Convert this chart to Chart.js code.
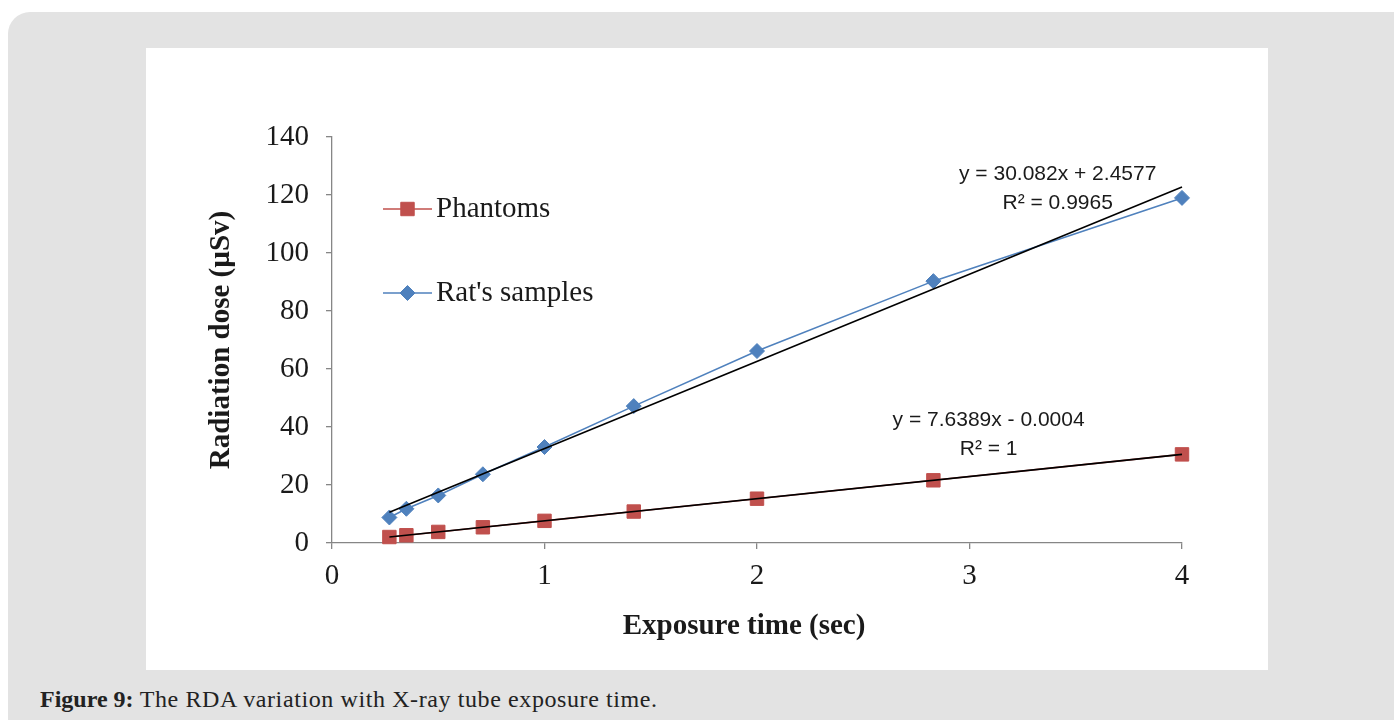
<!DOCTYPE html>
<html>
<head>
<meta charset="utf-8">
<script src="https://cdn.jsdelivr.net/npm/chart.js@4.4.1/dist/chart.umd.min.js"></script>
<style>
  html, body { margin: 0; padding: 0; background: #fff; width: 1394px; height: 720px; overflow: hidden; }
  #frame { position: absolute; left: 8px; top: 12px; width: 1420px; height: 760px; background: #e3e3e3; border-radius: 22px; }
  #panel { position: absolute; left: 146px; top: 48px; width: 1122px; height: 622px; background: #fff; }
  #caption { position: absolute; left: 40px; top: 686px; font: 24px "Liberation Serif", serif; color: #222; white-space: nowrap; }
  #caption b { font-weight: bold; }
  #caption span { letter-spacing: 0.6px; }
</style>
</head>
<body>
<div id="frame"></div>
<div id="panel"><canvas id="dose" width="1122" height="622"></canvas></div>
<div id="caption"><b>Figure 9:</b><span> The RDA variation with X-ray tube exposure time.</span></div>
<script>
// exposure time (s) and measured dose (µSv)
const exposureTime = [0.27, 0.35, 0.5, 0.71, 1, 1.42, 2, 2.83, 4];
const phantomDose  = [2.06, 2.67, 3.82, 5.42, 7.64, 10.85, 15.28, 21.62, 30.56];
const ratDose      = [8.8, 11.8, 16.4, 23.7, 33.1, 47.2, 66.2, 90.3, 119.0];
const seriesNames  = ['Phantoms', "Rat's samples"];

// linear fits as printed on the chart
const fitSlope     = [7.6389, 30.082];
const fitIntercept = [-0.0004, 2.4577];
const fitR2        = ['1', '0.9965'];

const RED = '#c0504d', BLUE = '#4f81bd', AXIS = '#868686', INK = '#1a1a1a';
const SERIF = '"Liberation Serif", "Times New Roman", serif';

const pts = ys => exposureTime.map((x, i) => ({ x, y: ys[i] }));
const fitLine = k => {
  const x0 = exposureTime[0], x1 = exposureTime[exposureTime.length - 1];
  return [{ x: x0, y: fitSlope[k] * x0 + fitIntercept[k] }, { x: x1, y: fitSlope[k] * x1 + fitIntercept[k] }];
};
const fitText = k => {
  const b = fitIntercept[k];
  return ['y = ' + fitSlope[k] + 'x ' + (b < 0 ? '- ' : '+ ') + Math.abs(b), 'R² = ' + fitR2[k]];
};

// where each equation is written (data units, first line)
const fitLabelAt = [{ x: 3.09, y: 42.3 }, { x: 3.415, y: 127.3 }];

const markers = [
  { color: RED, style: 'rect', radius: 9.5 },
  { color: BLUE, style: 'rectRot', radius: 7.5 }
];

const overlay = {
  id: 'overlay',
  afterDatasetsDraw(chart) {
    const { ctx, scales: { x, y } } = chart;
    ctx.save();

    // legend inside the plot
    const legendY = [161, 245];
    seriesNames.forEach((name, k) => {
      const m = markers[k], ly = legendY[k];
      ctx.strokeStyle = m.color; ctx.lineWidth = 1.6;
      ctx.beginPath(); ctx.moveTo(237, ly); ctx.lineTo(286, ly); ctx.stroke();
      ctx.fillStyle = m.color; ctx.lineWidth = 1;
      Chart.helpers.drawPoint(ctx, { pointStyle: m.style, radius: m.radius, borderWidth: 1 }, 261.5, ly);
      ctx.fillStyle = INK;
      ctx.font = '29px ' + SERIF;
      ctx.textAlign = 'left'; ctx.textBaseline = 'middle';
      ctx.fillText(name, 290, ly);
    });

    // fit equations
    ctx.font = '21px "Liberation Sans", Arial, sans-serif';
    ctx.fillStyle = INK; ctx.textAlign = 'center';
    fitLabelAt.forEach((p, k) => {
      const [l1, l2] = fitText(k);
      const px = x.getPixelForValue(p.x), py = y.getPixelForValue(p.y);
      ctx.fillText(l1, px, py);
      ctx.fillText(l2, px, py + 29);
    });

    // x-axis title
    ctx.font = 'bold 29px ' + SERIF;
    ctx.fillText('Exposure time (sec)', 598, 579);
    ctx.restore();
  }
};

const series = (k, ys) => ({
  label: seriesNames[k], data: pts(ys), showLine: true, clip: false,
  borderColor: markers[k].color, borderWidth: 1.6,
  pointStyle: markers[k].style, pointRadius: markers[k].radius,
  pointBackgroundColor: markers[k].color, pointBorderColor: markers[k].color, pointBorderWidth: 1,
  order: 1
});
const fit = k => ({
  label: 'fit ' + seriesNames[k], data: fitLine(k), showLine: true, clip: false,
  borderColor: '#000', borderWidth: 1.6, pointRadius: 0, order: 0
});

new Chart(document.getElementById('dose'), {
  type: 'scatter',
  data: { datasets: [fit(0), fit(1), series(0, phantomDose), series(1, ratDose)] },
  options: {
    responsive: false,
    animation: false,
    layout: { padding: { top: 89, right: 86, left: 0, bottom: 0 } },
    plugins: { legend: { display: false }, tooltip: { enabled: false } },
    scales: {
      x: {
        type: 'linear', min: 0, max: 4,
        ticks: { stepSize: 1, color: INK, font: { family: SERIF, size: 29 }, padding: 10 },
        grid: { drawOnChartArea: false, drawTicks: true, tickLength: 6, color: AXIS, lineWidth: 1.3 },
        border: { color: AXIS, width: 1.3 },
        afterFit: s => { s.height = 127; }
      },
      y: {
        type: 'linear', min: 0, max: 140,
        ticks: { stepSize: 20, color: INK, font: { family: SERIF, size: 29 }, padding: 17 },
        grid: { drawOnChartArea: false, drawTicks: true, tickLength: 6, color: AXIS, lineWidth: 1.3 },
        border: { color: AXIS, width: 1.3 },
        title: { display: true, text: 'Radiation dose (µSv)', color: INK,
                 font: { family: SERIF, size: 29, weight: 'bold' }, padding: { top: 58, bottom: 0 } },
        afterFit: s => { s.width = 186; }
      }
    }
  },
  plugins: [overlay]
});
</script>
</body>
</html>
